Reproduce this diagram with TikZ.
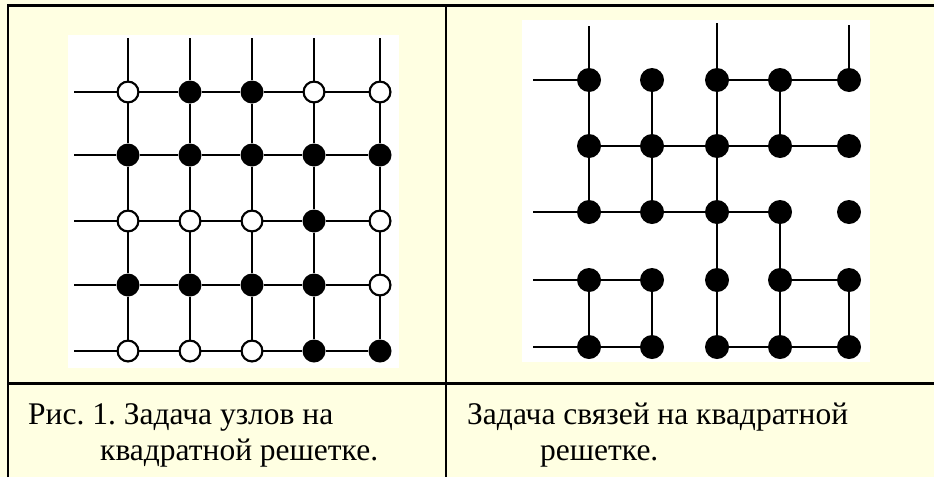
\documentclass[tikz,border=0pt]{standalone}
\usepackage{fontspec}
\setmainfont{Liberation Serif}
\definecolor{cellbg}{RGB}{255,255,226}
\frenchspacing
\begin{document}
\begin{tikzpicture}[x=1pt,y=-1pt,
  latline/.style={line width=1.8pt,black},
  Lo/.style={circle,draw=black,line width=1.8pt,fill=white,minimum size=20.5pt,inner sep=0pt},
  Lf/.style={circle,fill=black,minimum size=23pt,inner sep=0pt},
  Rf/.style={circle,fill=black,minimum size=24pt,inner sep=0pt},
  tablerule/.style={line width=2.4pt,black},
  captext/.style={anchor=base west,inner sep=0pt,font=\fontsize{31.5}{38}\selectfont}]
\useasboundingbox (0,0) rectangle (934,477);
\fill[cellbg] (0,0) rectangle (934,477);
\fill[white] (68,35) rectangle (399,368);
\fill[white] (522,20) rectangle (870,362);
% table rules
\draw[tablerule] (8,477) -- (8,5.5) -- (934,5.5);
\draw[tablerule] (446,5.5) -- (446,477);
\draw[line width=2.2pt] (8,383.5) -- (934,383.5);
% ---------- left lattice (site problem) ----------
\foreach \c in {1,...,5}{
  \foreach \r in {1,...,5}{
    \pgfmathsetmacro\xx{{128,190,252,314,380}[\c-1]}
    \pgfmathsetmacro\yy{{92,155,221,285,351}[\r-1]}
    \node[Lf] (L-\c-\r) at (\xx,\yy) {};
  }
}
\foreach \c/\r in {1/1,4/1,5/1,1/3,2/3,3/3,5/3,5/4,1/5,2/5,3/5}{
  \pgfmathsetmacro\xx{{128,190,252,314,380}[\c-1]}
  \pgfmathsetmacro\yy{{92,155,221,285,351}[\r-1]}
  \node[Lo] (L-\c-\r) at (\xx,\yy) {};
}
\foreach \c in {1,...,5}{
  \pgfmathsetmacro\xx{{128,190,252,314,380}[\c-1]}
  \coordinate (LT-\c) at (\xx,38);
  \draw[latline] (LT-\c) -- (L-\c-1) -- (L-\c-2) -- (L-\c-3) -- (L-\c-4) -- (L-\c-5);
}
\foreach \r in {1,...,5}{
  \pgfmathsetmacro\yy{{92,155,221,285,351}[\r-1]}
  \coordinate (LL-\r) at (74,\yy);
  \draw[latline] (LL-\r) -- (L-1-\r) -- (L-2-\r) -- (L-3-\r) -- (L-4-\r) -- (L-5-\r);
}
% ---------- right lattice (bond problem) ----------
\foreach \c in {1,...,5}{
  \foreach \r in {1,...,5}{
    \pgfmathsetmacro\xx{{589,652,717,780,849}[\c-1]}
    \pgfmathsetmacro\yy{{80,146,212,280,347}[\r-1]}
    \node[Rf] (R-\c-\r) at (\xx,\yy) {};
  }
}
\coordinate (RT-1) at (589,26);
\coordinate (RT-3) at (717,23);
\coordinate (RT-5) at (849,25);
\foreach \r in {1,3,4,5}{
  \pgfmathsetmacro\yy{{80,146,212,280,347}[\r-1]}
  \coordinate (RL-\r) at (533,\yy);
  \draw[latline] (RL-\r) -- (R-1-\r);
}
\foreach \c in {1,3,5}{
  \draw[latline] (RT-\c) -- (R-\c-1);
}
% horizontal bonds
\foreach \a/\b/\r in {3/4/1,4/5/1,
                      1/2/2,2/3/2,3/4/2,4/5/2,
                      1/2/3,2/3/3,3/4/3,
                      1/2/4,4/5/4,
                      1/2/5,3/4/5,4/5/5}{
  \draw[latline] (R-\a-\r) -- (R-\b-\r);
}
% vertical bonds
\foreach \c/\a/\b in {1/1/2,2/1/2,3/1/2,4/1/2,
                      1/2/3,2/2/3,3/2/3,
                      3/3/4,4/3/4,
                      1/4/5,2/4/5,3/4/5,4/4/5,5/4/5}{
  \draw[latline] (R-\c-\a) -- (R-\c-\b);
}
% ---------- captions ----------
\node[captext] (capL1) at (28,424) {Рис. 1. Задача узлов на};
\node[captext] (capL2) at (100,460) {квадратной решетке.};
\node[captext] (capR1) at (467,424) {Задача связей на квадратной};
\node[captext] (capR2) at (540,460) {решетке.};
\end{tikzpicture}
\end{document}
